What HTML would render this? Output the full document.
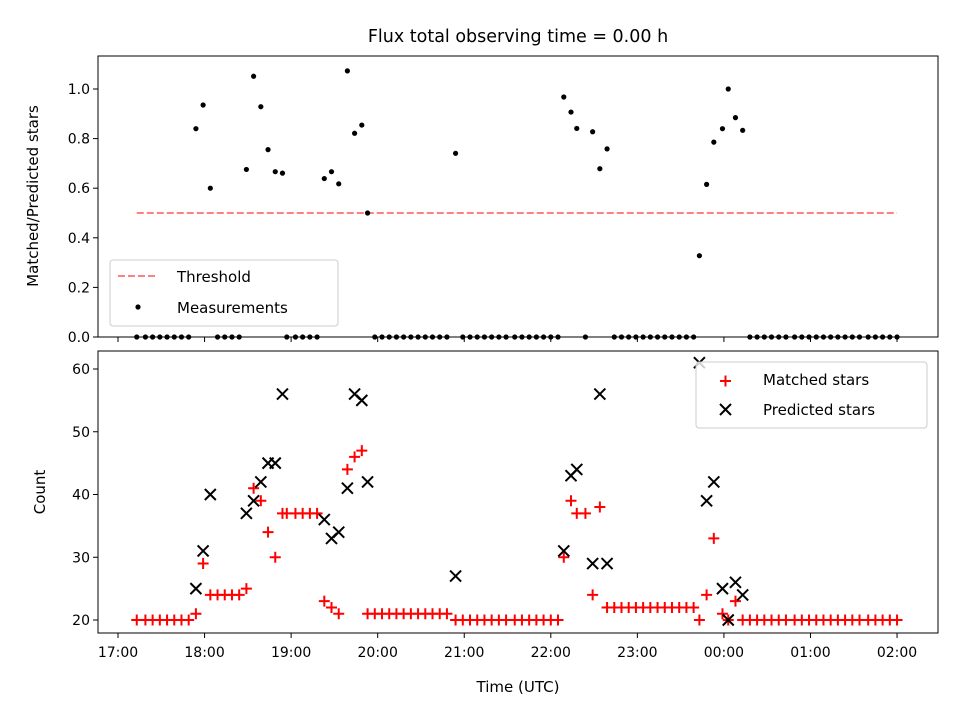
<!DOCTYPE html>
<html><head><meta charset="utf-8"><style>
body{margin:0;background:#fff}
svg{display:block;font-family:"DejaVu Sans","Liberation Sans",sans-serif}
</style></head><body>
<svg id="chart" width="960" height="720" xmlns="http://www.w3.org/2000/svg"></svg>
<script>
// time in minutes since 17:00 UTC
const times = [13,19,24,29,34,39,44,49,54,59,64,69,74,79,84,89,94,99,104,109,114,117,123,128,133,138,143,148,153,159,164,169,173,178,183,188,193,198,203,208,213,218,223,228,234,239,244,249,254,259,264,269,275,280,285,290,295,300,305,309,314,318,324,329,334,339,344,349,354,359,364,369,374,379,384,389,394,399,403,408,413,419,423,428,433,438,443,448,453,458,463,469,474,479,484,489,494,499,504,509,514,520,525,530,535,540];
const matched = [20,20,20,20,20,20,20,20,21,29,24,24,24,24,24,25,41,39,34,30,37,37,37,37,37,37,23,22,21,44,46,47,21,21,21,21,21,21,21,21,21,21,21,21,20,20,20,20,20,20,20,20,20,20,20,20,20,20,20,30,39,37,37,24,38,22,22,22,22,22,22,22,22,22,22,22,22,22,20,24,33,21,20,23,20,20,20,20,20,20,20,20,20,20,20,20,20,20,20,20,20,20,20,20,20,20];
const predicted = [null,null,null,null,null,null,null,null,25,31,40,null,null,null,null,37,39,42,45,45,56,null,null,null,null,null,36,33,34,41,56,55,42,null,null,null,null,null,null,null,null,null,null,null,27,null,null,null,null,null,null,null,null,null,null,null,null,null,null,31,43,44,null,29,56,29,null,null,null,null,null,null,null,null,null,null,null,null,61,39,42,25,20,26,24,null,null,null,null,null,null,null,null,null,null,null,null,null,null,null,null,null,null,null,null,null];
const threshold = 0.5;
const xTickLabels = ["17:00","18:00","19:00","20:00","21:00","22:00","23:00","00:00","01:00","02:00"];
const topYTicks = [0.0,0.2,0.4,0.6,0.8,1.0];
const botYTicks = [20,30,40,50,60];

const svg = document.getElementById('chart');
const NS = "http://www.w3.org/2000/svg";
function el(tag, attrs, parent){const e=document.createElementNS(NS,tag);for(const k in attrs)e.setAttribute(k,attrs[k]);(parent||svg).appendChild(e);return e;}
const L=98,R=938;
const xs = m => 118 + m*86.56/60;
const yTop = v => 337 - v*248;
const yBot = v => 620 - (v-20)*6.275;

// title & labels
let t=el('text',{x:518,y:42,'text-anchor':'middle','font-size':17.5});
t.textContent='Flux total observing time = 0.00 h';


t=el('text',{x:0,y:0,'text-anchor':'middle','font-size':15,transform:'translate(38,196) rotate(-90)'});
t.textContent='Matched/Predicted stars';


t=el('text',{x:0,y:0,'text-anchor':'middle','font-size':15,transform:'translate(45,492) rotate(-90)'});
t.textContent='Count';


t=el('text',{x:518,y:692,'text-anchor':'middle','font-size':15});
t.textContent='Time (UTC)';



// x ticks
xTickLabels.forEach((lab,i)=>{
  const x=xs(i*60);
  el('line',{x1:x,x2:x,y1:337,y2:342,stroke:'#000','stroke-width':1});
  el('line',{x1:x,x2:x,y1:633,y2:638,stroke:'#000','stroke-width':1});
  const tt=el('text',{x:x,y:657,'text-anchor':'middle','font-size':14});
  tt.textContent=lab;
  
  
});
topYTicks.forEach(v=>{
  const y=yTop(v);
  el('line',{x1:L-5,x2:L,y1:y,y2:y,stroke:'#000'});
  const tt=el('text',{x:L-8,y:y+5,'text-anchor':'end','font-size':14});
  tt.textContent=v.toFixed(1);
  
  
});
botYTicks.forEach(v=>{
  const y=yBot(v);
  el('line',{x1:L-5,x2:L,y1:y,y2:y,stroke:'#000'});
  const tt=el('text',{x:L-8,y:y+5,'text-anchor':'end','font-size':14});
  tt.textContent=v;
  
  
});

// threshold
const th=el('line',{x1:xs(times[0]),x2:xs(times[times.length-1]),y1:yTop(threshold),y2:yTop(threshold),stroke:'#ff8080','stroke-width':2,'stroke-dasharray':'7,3'});



// measurements
times.forEach((m,i)=>{
  const r = predicted[i] ? matched[i]/predicted[i] : 0;
  const c=el('circle',{cx:xs(m),cy:yTop(r),r:2.6,fill:'#000'});
  
  
});

// bottom markers
times.forEach((m,i)=>{
  const x=xs(m), y=yBot(matched[i]);
  const g=el('path',{d:`M${x-5.5},${y}H${x+5.5}M${x},${y-5.5}V${y+5.5}`,stroke:'#f00','stroke-width':2});
  
  
});
times.forEach((m,i)=>{
  if(predicted[i]==null) return;
  const x=xs(m), y=yBot(predicted[i]);
  const g=el('path',{d:`M${x-5.5},${y-5.5}L${x+5.5},${y+5.5}M${x-5.5},${y+5.5}L${x+5.5},${y-5.5}`,stroke:'#000','stroke-width':2});
  
  
});

// frames
let f=el('rect',{x:L,y:56,width:R-L,height:281,fill:'none',stroke:'#000','stroke-width':1});


f=el('rect',{x:L,y:351,width:R-L,height:282,fill:'none',stroke:'#000','stroke-width':1});



// top legend
let lg=el('g',{});


el('rect',{x:110,y:260,width:228,height:66,rx:3,fill:'rgba(255,255,255,0.8)',stroke:'#ccc'},lg);
el('line',{x1:118,x2:158,y1:276,y2:276,stroke:'#ff8080','stroke-width':2,'stroke-dasharray':'7,3'},lg);
el('circle',{cx:138,cy:307,r:2.6,fill:'#000'},lg);
t=el('text',{x:177,y:282,'font-size':15},lg);t.textContent='Threshold';


t=el('text',{x:177,y:313,'font-size':15},lg);t.textContent='Measurements';



// bottom legend
lg=el('g',{});


el('rect',{x:696,y:362,width:231,height:66,rx:3,fill:'rgba(255,255,255,0.8)',stroke:'#ccc'},lg);
el('path',{d:'M720,381H731M725.5,375.5V386.5',stroke:'#f00','stroke-width':2},lg);
el('path',{d:'M720,404L731,415M720,415L731,404',stroke:'#000','stroke-width':2},lg);
t=el('text',{x:763,y:385,'font-size':15},lg);t.textContent='Matched stars';


t=el('text',{x:763,y:415,'font-size':15},lg);t.textContent='Predicted stars';


</script>
</body></html>
